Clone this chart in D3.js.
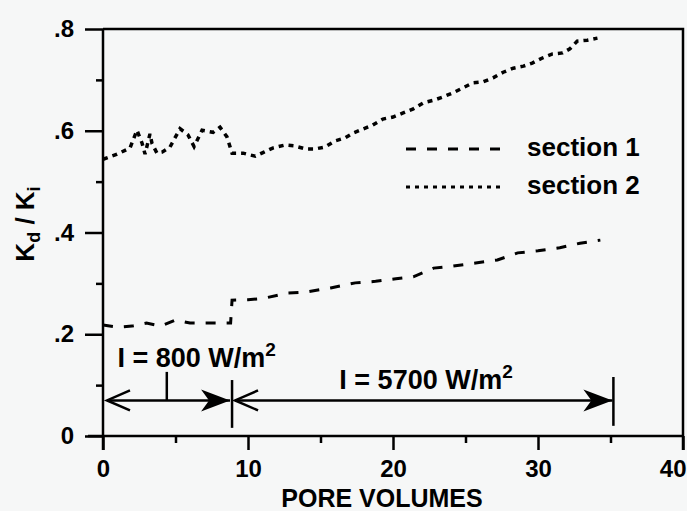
<!DOCTYPE html>
<html>
<head>
<meta charset="utf-8">
<script src="https://cdn.jsdelivr.net/npm/d3@7"></script>
<style>
  body { margin: 0; background: #f6f7f7; }
  svg { display: block; font-family: "Liberation Sans", Arial, Helvetica, sans-serif; font-weight: bold; }
  .axis path { display: none; }
  .axis line { stroke: #000; stroke-width: 2.5; }
  .axis text { font-size: 24px; font-weight: bold; fill: #000; }
</style>
</head>
<body>
<svg id="chart"></svg>
<script>
// data
const section1X = [0, 1, 2, 3, 4, 5, 6, 7, 8.8, 8.9, 10, 11, 12.7, 14, 15.7, 17.4, 18.8, 20.2, 21.4, 22.8, 24.1, 25.7, 27.2, 28.6, 30, 31.5, 32.9, 34.3];
const section1Y = [0.218, 0.214, 0.216, 0.222, 0.216, 0.228, 0.222, 0.222, 0.222, 0.267, 0.268, 0.27, 0.281, 0.283, 0.291, 0.301, 0.304, 0.309, 0.313, 0.33, 0.334, 0.34, 0.346, 0.36, 0.364, 0.37, 0.379, 0.385];

const section2X = [0, 0.97, 1.86, 2.34, 2.69, 2.9, 3.24, 3.38, 3.72, 4.07, 4.62, 5.31, 5.86, 6.28, 6.83, 7.59, 8.07, 8.55, 8.9, 9.66, 10.5, 11.1, 11.7, 12.55, 13.24, 14.0, 14.6, 15.3, 16.0, 16.7, 17.3, 17.9, 18.6, 19.3, 20.0, 20.7, 21.4, 22.1, 22.8, 23.4, 24.1, 24.8, 25.5, 26.2, 26.9, 27.6, 28.3, 29.0, 29.6, 30.3, 31.0, 31.7, 32.2, 32.7, 33.4, 34.1];
const section2Y = [0.544, 0.554, 0.566, 0.601, 0.576, 0.554, 0.594, 0.575, 0.556, 0.558, 0.568, 0.604, 0.592, 0.569, 0.601, 0.597, 0.607, 0.588, 0.556, 0.556, 0.55, 0.558, 0.566, 0.572, 0.57, 0.564, 0.564, 0.568, 0.58, 0.586, 0.596, 0.603, 0.611, 0.623, 0.627, 0.635, 0.643, 0.655, 0.66, 0.666, 0.674, 0.684, 0.694, 0.696, 0.704, 0.715, 0.723, 0.727, 0.733, 0.743, 0.751, 0.753, 0.761, 0.776, 0.778, 0.782];

const xMajorTicks = [0, 10, 20, 30, 40];
const xMinorTicks = [5, 15, 25, 35];
const yMajorTicks = [0, 0.2, 0.4, 0.6, 0.8];
const yMajorLabels = ["0", ".2", ".4", ".6", ".8"];
const yMinorTicks = [0.1, 0.3, 0.5, 0.7];

const seriesNames = ["section 1", "section 2"];
// irradiance periods (pore volumes)
const periodBounds = [0, 8.9, 35.2];
const periodLabels = ["800", "5700"];

const svgWidth = 687;
const svgHeight = 511;

const svg = d3.select("#chart")
  .attr("width", svgWidth)
  .attr("height", svgHeight);

const xScale = d3.scaleLinear().domain([0, 40]).range([103, 683]);
const yScale = d3.scaleLinear().domain([0, 0.8]).range([436, 29]);

// frame (top + right)
svg.append("path")
  .attr("d", "M" + xScale(0) + "," + yScale(0.8) + "H" + xScale(40) + "V" + (yScale(0) + 14))
  .attr("fill", "none")
  .attr("stroke", "#000")
  .attr("stroke-width", 2.5);

// x axis major + minor
const xAxisGroup = svg.append("g")
  .attr("class", "axis")
  .attr("transform", "translate(0," + yScale(0) + ")")
  .call(d3.axisBottom(xScale).tickValues(xMajorTicks).tickSize(14).tickPadding(10).tickFormat(d3.format("d")));
// last label sits against the right edge
xAxisGroup.selectAll(".tick text")
  .filter(d => d === 40)
  .attr("text-anchor", "end")
  .attr("dx", 3);
svg.append("g")
  .attr("class", "axis")
  .attr("transform", "translate(0," + yScale(0) + ")")
  .call(d3.axisBottom(xScale).tickValues(xMinorTicks).tickSize(7).tickFormat(""));

// y axis major + minor
svg.append("g")
  .attr("class", "axis")
  .attr("transform", "translate(" + xScale(0) + ",0)")
  .call(d3.axisLeft(yScale).tickValues(yMajorTicks).tickSize(18).tickPadding(11)
    .tickFormat((d, i) => yMajorLabels[i]));
svg.append("g")
  .attr("class", "axis")
  .attr("transform", "translate(" + xScale(0) + ",0)")
  .call(d3.axisLeft(yScale).tickValues(yMinorTicks).tickSize(7).tickFormat(""));

// axis lines
svg.append("line")
  .attr("x1", xScale(0) - 15).attr("x2", xScale(40))
  .attr("y1", yScale(0)).attr("y2", yScale(0))
  .attr("stroke", "#000").attr("stroke-width", 2.5);
svg.append("line")
  .attr("x1", xScale(0)).attr("x2", xScale(0))
  .attr("y1", yScale(0.8)).attr("y2", yScale(0) + 14)
  .attr("stroke", "#000").attr("stroke-width", 2.5);

// axis titles
svg.append("text")
  .attr("x", 382)
  .attr("y", 507)
  .attr("text-anchor", "middle")
  .attr("font-size", 25)
  .text("PORE VOLUMES");

const yTitle = svg.append("text")
  .attr("transform", "translate(34,224) rotate(-90)")
  .attr("text-anchor", "middle")
  .attr("font-size", 26);
yTitle.append("tspan").text("K");
yTitle.append("tspan").attr("font-size", 18).attr("dy", 6).text("d");
yTitle.append("tspan").attr("dy", -6).text(" / K");
yTitle.append("tspan").attr("font-size", 18).attr("dy", 6).text("i");

// data lines
const line = d3.line()
  .x(d => xScale(d[0]))
  .y(d => yScale(d[1]));

const series1 = section1X.map((v, i) => [v, section1Y[i]]);
const series2 = section2X.map((v, i) => [v, section2Y[i]]);

svg.append("path")
  .datum(series1)
  .attr("d", line)
  .attr("fill", "none")
  .attr("stroke", "#000")
  .attr("stroke-width", 3)
  .attr("stroke-dasharray", "10,11");

svg.append("path")
  .datum(series2)
  .attr("d", line)
  .attr("fill", "none")
  .attr("stroke", "#000")
  .attr("stroke-width", 3.5)
  .attr("stroke-dasharray", "5,5");

// legend
const legendDash = ["10,11", "4,5"];
const legendWidth = [3, 2.8];
const legend = svg.append("g");
seriesNames.forEach((name, i) => {
  const ly = 149 + i * 38;
  legend.append("line")
    .attr("x1", 406).attr("x2", 505)
    .attr("y1", ly).attr("y2", ly)
    .attr("stroke", "#000")
    .attr("stroke-width", legendWidth[i])
    .attr("stroke-dasharray", legendDash[i]);
  legend.append("text")
    .attr("x", 527)
    .attr("y", ly + 7)
    .attr("font-size", 26)
    .text(name);
});

// irradiance annotations
const arrowY = yScale(0.07);
const ann = svg.append("g").attr("stroke", "#000").attr("stroke-width", 2.5).attr("fill", "none");

function openHead(tipX, dir) {
  ann.append("path")
    .attr("d", "M" + (tipX + dir * 23) + "," + (arrowY - 10) + "L" + tipX + "," + arrowY + "L" + (tipX + dir * 23) + "," + (arrowY + 10));
}
function solidHead(tipX, dir) {
  svg.append("path")
    .attr("d", "M" + tipX + "," + arrowY +
      "L" + (tipX - dir * 29) + "," + (arrowY - 11) +
      "L" + (tipX - dir * 21) + "," + arrowY +
      "L" + (tipX - dir * 29) + "," + (arrowY + 11) + "Z")
    .attr("fill", "#000");
}

for (let i = 0; i < periodLabels.length; i++) {
  const x0 = xScale(periodBounds[i]) + (i === 0 ? 4 : 3);
  const x1 = xScale(periodBounds[i + 1]) - (i === 0 ? 2 : 1);
  ann.append("line").attr("x1", x0).attr("x2", x1).attr("y1", arrowY).attr("y2", arrowY);
  openHead(x0, 1);
  solidHead(x1, 1);
}
// separators
ann.append("line")
  .attr("x1", xScale(periodBounds[1])).attr("x2", xScale(periodBounds[1]))
  .attr("y1", yScale(0.11)).attr("y2", yScale(0.016));
ann.append("line")
  .attr("x1", xScale(periodBounds[2])).attr("x2", xScale(periodBounds[2]))
  .attr("y1", yScale(0.116)).attr("y2", yScale(0.02));
// midpoint mark on first arrow
ann.append("line")
  .attr("x1", xScale(4.4)).attr("x2", xScale(4.4))
  .attr("y1", yScale(0.126)).attr("y2", arrowY);

const labelPos = [[1.0, 0.136], [16.3, 0.093]];
periodLabels.forEach((v, i) => {
  const t = svg.append("text")
    .attr("x", xScale(labelPos[i][0]))
    .attr("y", yScale(labelPos[i][1]))
    .attr("font-size", 27);
  t.append("tspan").text("I = " + v + " W/m");
  t.append("tspan").attr("font-size", 19).attr("dy", -11).text("2");
});
</script>
</body>
</html>
